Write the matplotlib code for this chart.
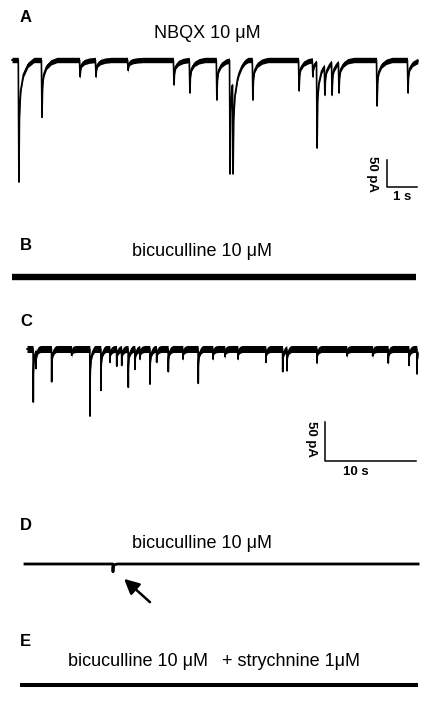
import numpy as np
import matplotlib
matplotlib.use('Agg')
import matplotlib.pyplot as plt

W, H = 421, 704
plt.rcParams['font.family'] = ['Liberation Sans', 'DejaVu Sans']

# panel A: NBQX, event times (s) and peak depths (pA)
a_event_t = [0.23, 1.0, 2.27, 2.8, 3.87, 5.4, 5.93, 6.83, 7.27, 7.37, 8.03,
             9.57, 10.03, 10.17, 10.43, 10.67, 10.9, 12.17, 13.2]
a_event_amp = [226, 106, 31, 31, 19, 46, 61, 74, 211, 211, 74,
               57, 31, 163, 65, 65, 61, 85, 61]
a_duration = 13.53

# panel C: event times (s) and peak depths (pA)
c_event_t = [0.69, 0.99, 2.71, 4.91, 6.92, 8.13, 9.12, 9.86, 10.41, 11.13,
             11.87, 12.42, 13.52, 14.25, 15.53, 17.14, 18.82, 20.44, 21.76,
             23.19, 26.26, 28.1, 28.57, 31.87, 35.16, 37.99, 39.7, 41.98, 42.86]
c_event_amp = [68, 25, 42, 8, 86, 53, 17, 22, 21, 49,
               26, 13, 45, 17, 29, 13, 44, 13, 10,
               13, 17, 29, 28, 18, 9, 9, 18, 21, 32]
c_duration = 42.97

# panel D: single small event (arrow)
d_event_t = [9.67]
d_event_amp = [10]
d_duration = 43.2

b_duration = 44.4
e_duration = 43.7

# event waveform template (time after onset, fraction of peak)
kernel_dt = [-0.02, 0.0, 0.02, 0.06, 0.15, 0.3, 0.5]
kernel_frac = [0.0, 1.0, 0.45, 0.25, 0.12, 0.04, 0.0]


def build_trace(event_t, event_amp, duration):
    nodes = [0.0, duration] + [t + k for t in event_t for k in kernel_dt]
    nodes = np.unique(np.clip(nodes, 0, duration))
    y = np.zeros_like(nodes)
    done = []
    for t, a in sorted(zip(event_t, event_amp)):
        # depth already present from earlier events at this onset
        prev = sum(pa * np.interp(t - pt, kernel_dt, kernel_frac, left=0, right=0)
                   for pt, pa in done)
        own = max(a - prev, 2)
        done.append((t, own))
        y -= own * np.interp(nodes - t, kernel_dt, kernel_frac, left=0, right=0)
    return nodes, y


fig = plt.figure(figsize=(W / 100, H / 100), dpi=100)


def panel(y_top, y_bot, x0, base, px_s, px_pa):
    ax = fig.add_axes([0, 1 - y_bot / H, 1, (y_bot - y_top) / H])
    ax.set_xlim(-x0 / px_s, (W - x0) / px_s)
    ax.set_ylim((base - y_bot) / px_pa, (base - y_top) / px_pa)
    ax.axis('off')
    ax.patch.set_visible(False)
    return ax


def ftext(x, y, s, **kw):
    fig.text(x / W, 1 - y / H, s, ha='center', va='center', **kw)


# A
ax = panel(40, 215, 12, 60, 30, 0.54)
t, y = build_trace(a_event_t, a_event_amp, a_duration)
ax.fill_between(t, y - 5, y + 5, color='k', lw=0)
ax.plot(t, y, color='k', lw=1.2)
ax.plot([12.5, 12.5, 13.5], [-185.2, -235.2, -235.2], color='k', lw=1.1)

# B
ax = panel(262, 292, 12, 277, 9.1, 0.78)
ax.plot([0, b_duration], [0, 0], color='k', lw=4.6, solid_capstyle='butt')

# C
ax = panel(325, 485, 27, 349, 9.1, 0.78)
t, y = build_trace(c_event_t, c_event_amp, c_duration)
ax.fill_between(t, y - 4.5, y + 4.5, color='k', lw=0)
ax.plot(t, y, color='k', lw=1.2)
ax.plot([32.75, 32.75, 42.75], [-93.6, -143.6, -143.6], color='k', lw=1.1)

# D
ax = panel(550, 615, 25, 564, 9.1, 0.78)
t, y = build_trace(d_event_t, d_event_amp, d_duration)
ax.plot(t, y, color='k', lw=2.0)
ax.annotate('', xy=(10.66, -16.7), xytext=(13.96, -51.3),
            arrowprops=dict(arrowstyle='-|>,head_length=0.9,head_width=0.45',
                            color='k', lw=1.8))

# E
ax = panel(675, 700, 20, 685, 9.1, 0.78)
ax.plot([0, e_duration], [0, 0], color='k', lw=2.9, solid_capstyle='butt')

# labels
for lab, yy in zip(['A', 'B', 'C', 'D', 'E'], [18, 246, 321, 525, 642]):
    fig.text(20 / W, 1 - yy / H, lab, ha='left', va='center',
             fontsize=12, fontweight='bold')

ftext(207, 33, 'NBQX 10 \u03bcM', fontsize=13)
ftext(202, 252, 'bicuculline 10 \u03bcM', fontsize=13)
ftext(202, 543, 'bicuculline 10 \u03bcM', fontsize=13)
fig.text(68 / W, 1 - 662 / H, 'bicuculline 10 \u03bcM', ha='left', va='center', fontsize=13)
fig.text(222 / W, 1 - 662 / H, '+ strychnine 1\u03bcM', ha='left', va='center', fontsize=13)

ftext(372.5, 174, '50 pA', rotation=270, fontsize=9.5, fontweight='bold')
ftext(402, 197, '1 s', fontsize=9.5, fontweight='bold')
ftext(311, 439, '50 pA', rotation=270, fontsize=9.5, fontweight='bold')
ftext(356, 472, '10 s', fontsize=9.5, fontweight='bold')

fig.savefig('out.png', dpi=100)
